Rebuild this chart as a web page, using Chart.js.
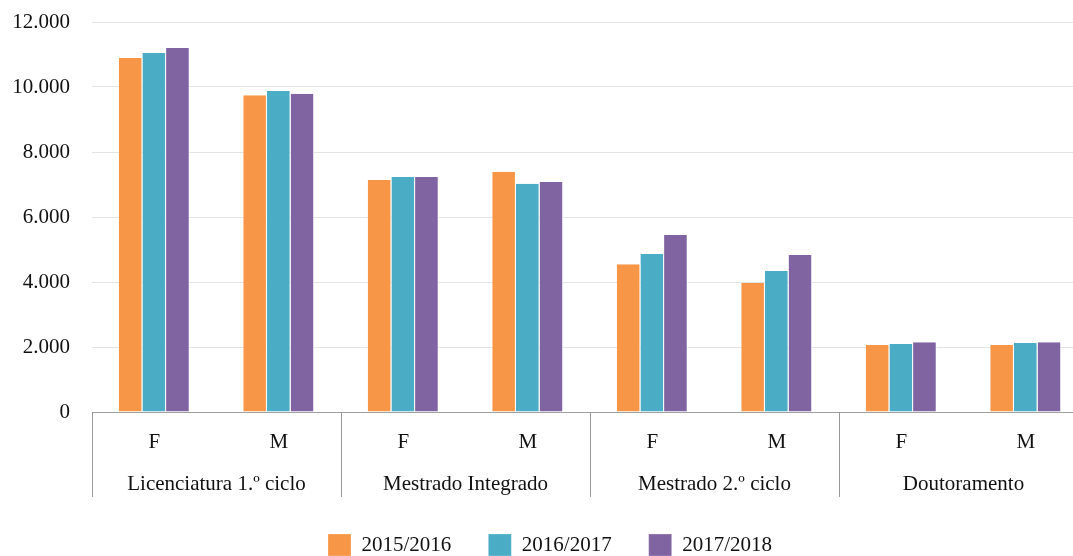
<!DOCTYPE html>
<html>
<head>
<meta charset="utf-8">
<script src="https://cdn.jsdelivr.net/npm/chart.js@4/dist/chart.umd.min.js"></script>
<style>
html,body{margin:0;padding:0;overflow:hidden;background:#fff;width:1073px;height:556px;}
canvas{display:block;}
</style>
</head>
<body>
<canvas id="c" width="1092" height="566"></canvas>
<script>
const categories = ['F','M','F','M','F','M','F','M'];
const groups = ['Licenciatura 1.º ciclo','Mestrado Integrado','Mestrado 2.º ciclo','Doutoramento'];
const seriesNames = ['2015/2016','2016/2017','2017/2018'];
const values2015 = [10890, 9750, 7140, 7390, 4550, 3970, 2060, 2060];
const values2016 = [11050, 9880, 7230, 7020, 4860, 4340, 2090, 2120];
const values2017 = [11200, 9790, 7230, 7080, 5450, 4830, 2150, 2150];
const yMin = 0, yMax = 12000, yStep = 2000;
const colors = ['#F79646','#4BACC6','#8064A2'];

const FONT = {family:'"Liberation Serif","Times New Roman",serif', size:21};
const TXT = '#111';

function fmt(v){ return String(v).replace(/\B(?=(\d{3})+(?!\d))/g,'.'); }

const dividers = {
  id:'dividers',
  afterDraw(chart){
    const x = chart.scales.x;
    const ctx = chart.ctx;
    const cw = (x.right - x.left)/categories.length;
    const per = categories.length/groups.length;
    ctx.save();
    ctx.strokeStyle = '#9a9a9a';
    ctx.lineWidth = 1;
    for(let k=0;k<=groups.length;k++){
      const px = Math.round(x.getPixelForValue(k*per) - cw/2) + 0.5;
      ctx.beginPath();
      ctx.moveTo(px, x.top);
      ctx.lineTo(px, x.top + 85);
      ctx.stroke();
    }
    ctx.restore();
  }
};

const datasets = [values2015, values2016, values2017].map((d,i)=>({
  label: seriesNames[i],
  data: d,
  backgroundColor: colors[i],
  borderColor: '#ffffff',
  borderWidth: {left:0, right:1, top:0, bottom:0},
  borderSkipped: false,
  categoryPercentage: 0.57,
  barPercentage: 1.0
}));

new Chart(document.getElementById('c'), {
  type:'bar',
  data:{ labels: categories, datasets },
  options:{
    responsive:false,
    animation:false,
    devicePixelRatio:1,
    layout:{ padding:{ left:12, right:4, top:22, bottom:0 } },
    plugins:{
      legend:{
        position:'bottom',
        labels:{ font:FONT, color:TXT, boxWidth:23, boxHeight:22, padding:37 }
      },
      tooltip:{enabled:false}
    },
    scales:{
      x:{
        type:'category',
        position:'bottom',
        grid:{ display:false },
        border:{ display:true, color:'#a0a0a0', width:1 },
        ticks:{ font:FONT, color:TXT, padding:10, maxRotation:0 },
        afterFit(s){ s.height = 48; }
      },
      x2:{
        type:'category',
        position:'bottom',
        labels: groups,
        offset:true,
        grid:{ display:false },
        border:{ display:false },
        ticks:{ font:FONT, color:TXT, padding:4, maxRotation:0, autoSkip:false },
        afterFit(s){ s.height = 37; }
      },
      y:{
        min:yMin, max:yMax,
        grid:{ color:'#e4e4e4', drawTicks:false },
        border:{ display:false },
        ticks:{ stepSize:yStep, font:FONT, color:TXT, padding:22, callback:(v)=>fmt(v) },
        afterFit(s){ s.width = 80; s.paddingTop = 0; s.paddingBottom = 0; }
      }
    }
  },
  plugins:[dividers]
});
</script>
</body>
</html>
